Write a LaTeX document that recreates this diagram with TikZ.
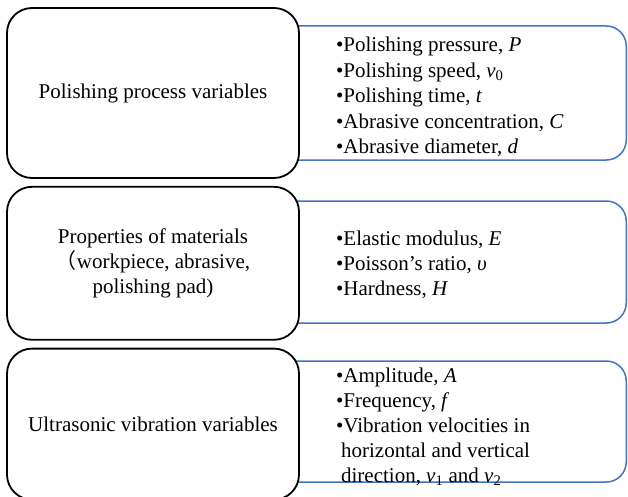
\documentclass[tikz,border=0pt]{standalone}
\usepackage{fontspec}
\setmainfont{Liberation Serif}
\newfontfamily\cjk{Noto Sans CJK SC}
\usetikzlibrary{positioning}
\definecolor{boxblue}{RGB}{68,114,196}

\begin{document}
\begin{tikzpicture}[x=1pt,y=-1pt]
	\tikzstyle{every node}=[font={\fontsize{21}{25}\selectfont}]
	\tikzstyle{group}=[draw,line width=1.8pt,fill=white,rounded corners=25pt,minimum width=292pt,align=center,inner sep=0pt]
	\tikzstyle{params}=[draw=boxblue,line width=1.5pt,rounded corners=20pt,minimum width=427pt,inner sep=0pt]
	\tikzstyle{items}=[align=left,inner sep=0pt]

	\useasboundingbox (0,0) rectangle (628,497);

	% blue boxes go first, the black ones cover their left ends
	\node [params,minimum height=134pt,anchor=east] (procbox) at (627,93) {};
	\node [params,minimum height=122pt,anchor=east] (matbox) at (627,262) {};
	\node [params,minimum height=121pt,anchor=east] (vibbox) at (627,421.5) {};

	\node [group,minimum height=170pt] (proc) at (153,93) {Polishing process variables};
	\node [group,minimum height=153pt] (mat) [below=7pt of proc] {Properties of materials\\ {\cjk （}workpiece, abrasive,\\ polishing pad)};
	\node [group,minimum height=151pt] (vib) [below=7pt of mat] {Ultrasonic vibration variables};

	\node [items,yshift=-4pt,font={\fontsize{21}{25.5}\selectfont}] (proclist) [right=36pt of proc] {%
		•Polishing pressure, \textit{P}\\
		•Polishing speed, \textit{v}\textsubscript{0}\\
		•Polishing time, \textit{t}\\
		•Abrasive concentration, \textit{C}\\
		•Abrasive diameter, \textit{d}};
	\node [items,yshift=-2pt] (matlist) [right=36pt of mat] {%
		•Elastic modulus, \textit{E}\\
		•Poisson’s ratio, \textit{υ}\\
		•Hardness, \textit{H}};
	\node [items,yshift=-3pt] (viblist) [right=36pt of vib] {%
		•Amplitude, \textit{A}\\
		•Frequency, \textit{f}\\
		•Vibration velocities in\\
		\hspace*{5pt}horizontal and vertical\\
		\hspace*{5pt}direction, \textit{v}\textsubscript{1} and \textit{v}\textsubscript{2}};
\end{tikzpicture}
\end{document}
